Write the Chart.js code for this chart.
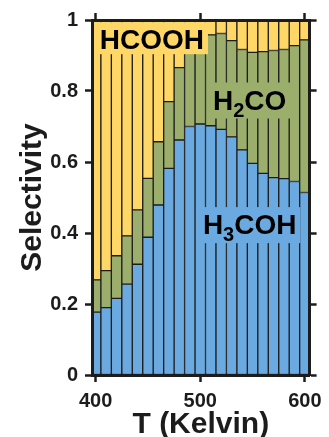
<!DOCTYPE html>
<html lang="en">
<head>
<meta charset="utf-8">
<title>Selectivity vs T</title>
<script src="https://cdn.jsdelivr.net/npm/chart.js"></script>
<style>
  html, body { margin: 0; padding: 0; background: #fff; }
</style>
</head>
<body>
<canvas id="myChart" width="329" height="437"></canvas>
<script>
// temperatures (K), one bar each
const temps = [400, 410, 420, 430, 440, 450, 460, 470, 480, 490, 500,
               510, 520, 530, 540, 550, 560, 570, 580, 590, 600];
// selectivity of each product, stacked bottom to top
const h3coh = [0.177, 0.190, 0.216, 0.256, 0.312, 0.388, 0.479, 0.582, 0.662, 0.700, 0.707,
               0.702, 0.692, 0.671, 0.634, 0.596, 0.568, 0.556, 0.553, 0.545, 0.514];
const h2co  = [0.091, 0.104, 0.120, 0.136, 0.153, 0.166, 0.178, 0.188, 0.204, 0.225, 0.248,
               0.256, 0.270, 0.271, 0.283, 0.313, 0.343, 0.358, 0.364, 0.383, 0.430];
const hcooh = [0.732, 0.706, 0.664, 0.608, 0.535, 0.446, 0.343, 0.230, 0.134, 0.075, 0.045,
               0.042, 0.038, 0.058, 0.083, 0.091, 0.089, 0.086, 0.083, 0.072, 0.056];
const xTicks = [400, 500, 600];
const yTicks = [0, 0.2, 0.4, 0.6, 0.8, 1];

const blue = '#6BAAE0';
const green = '#9BAE6C';
const yellow = '#FFD766';
const ink = '#1c1c1c';

// in-plot labels, placed in data units (text centre)
const labels = [
  { parts: [['HCOOH', 0]], x: 453.7, y: 0.946, bg: yellow },
  { parts: [['H', 0], ['2', 1], ['CO', 0]], x: 547.2, y: 0.776, bg: green },
  { parts: [['H', 0], ['3', 1], ['COH', 0]], x: 547.2, y: 0.425, bg: blue }
];

const mainFont = 'bold 28px "Liberation Sans", Arial, sans-serif';
const subFont = 'bold 20px "Liberation Sans", Arial, sans-serif';

const labelPlugin = {
  id: 'labelPlugin',
  afterDatasetsDraw(chart) {
    const ctx = chart.ctx;
    const xs = chart.scales.x, ys = chart.scales.y;
    ctx.save();
    labels.forEach(function (lab) {
      let w = 0;
      lab.parts.forEach(function (p) {
        ctx.font = p[1] ? subFont : mainFont;
        w += ctx.measureText(p[0]).width;
      });
      const cx = xs.getPixelForValue(lab.x);
      const cy = ys.getPixelForValue(lab.y);
      const capH = 28 * 0.716;
      const base = cy + capH / 2;
      const hasSub = lab.parts.some(p => p[1]);
      const top = base - capH - 7;
      const bottom = base + (hasSub ? 9 : 5);
      ctx.fillStyle = lab.bg;
      ctx.fillRect(cx - w / 2 - 4, top, w + 8, bottom - top);
      ctx.fillStyle = '#000';
      ctx.textBaseline = 'alphabetic';
      ctx.textAlign = 'left';
      let x = cx - w / 2;
      lab.parts.forEach(function (p) {
        ctx.font = p[1] ? subFont : mainFont;
        ctx.fillText(p[0], x, p[1] ? base + 7 : base);
        x += ctx.measureText(p[0]).width;
      });
    });
    ctx.restore();
  }
};

const tickFont = { family: '"Liberation Sans", Arial, sans-serif', size: 20, weight: 'bold' };
const titleFont = { family: '"Liberation Sans", Arial, sans-serif', size: 30, weight: 'bold' };

function ds(label, data, color) {
  return {
    label: label,
    data: data,
    backgroundColor: color,
    borderColor: ink,
    borderWidth: 1,
    borderSkipped: false,
    barPercentage: 1,
    categoryPercentage: 1,
    clip: 0
  };
}

const ctx = document.getElementById('myChart').getContext('2d');
const myChart = new Chart(ctx, {
  type: 'bar',
  data: {
    labels: temps,
    datasets: [
      ds('H3COH', h3coh, blue),
      ds('H2CO', h2co, green),
      ds('HCOOH', hcooh, yellow)
    ]
  },
  options: {
    responsive: false,
    animation: false,
    layout: { padding: 0 },
    plugins: {
      legend: { display: false },
      tooltip: { enabled: false }
    },
    scales: {
      x: {
        type: 'linear',
        position: 'bottom',
        stacked: true,
        offset: false,
        min: 396.5,
        max: 604.5,
        afterBuildTicks: s => { s.ticks = xTicks.map(v => ({ value: v })); },
        afterFit: s => { s.height = 62; },
        grid: { offset: false, drawOnChartArea: false, tickLength: 7, tickWidth: 2.5, tickColor: ink },
        border: { width: 3, color: ink, z: 1 },
        ticks: { font: tickFont, color: ink, padding: 7, maxRotation: 0, callback: v => String(v) },
        title: { display: true, text: 'T (Kelvin)', font: Object.assign({ lineHeight: 0.8 }, titleFont), color: ink, padding: 0 }
      },
      x2: {
        type: 'linear',
        axis: 'x',
        position: 'top',
        offset: false,
        min: 396.5,
        max: 604.5,
        afterBuildTicks: s => { s.ticks = xTicks.map(v => ({ value: v })); },
        afterFit: s => { s.height = 20; },
        grid: { offset: false, drawOnChartArea: false, tickLength: 7, tickWidth: 2.5, tickColor: ink },
        border: { width: 3, color: ink, z: 1 },
        ticks: { display: false }
      },
      y: {
        stacked: true,
        min: 0,
        max: 1,
        afterBuildTicks: s => { s.ticks = yTicks.map(v => ({ value: v })); },
        afterFit: s => { s.width = 92; },
        grid: { drawOnChartArea: false, tickLength: 7, tickWidth: 2.5, tickColor: ink },
        border: { width: 3, color: ink, z: 1 },
        ticks: { font: tickFont, color: ink, padding: 7, callback: v => String(v) },
        title: { display: true, text: 'Selectivity', font: Object.assign({ lineHeight: 1 }, titleFont), color: ink, padding: { top: 18, bottom: 0 } }
      },
      y2: {
        type: 'linear',
        axis: 'y',
        position: 'right',
        min: 0,
        max: 1,
        afterBuildTicks: s => { s.ticks = yTicks.map(v => ({ value: v })); },
        afterFit: s => { s.width = 12; },
        grid: { drawOnChartArea: false, tickLength: 7, tickWidth: 2.5, tickColor: ink },
        border: { width: 3, color: ink, z: 1 },
        ticks: { display: false }
      }
    }
  },
  plugins: [labelPlugin]
});
</script>
</body>
</html>
